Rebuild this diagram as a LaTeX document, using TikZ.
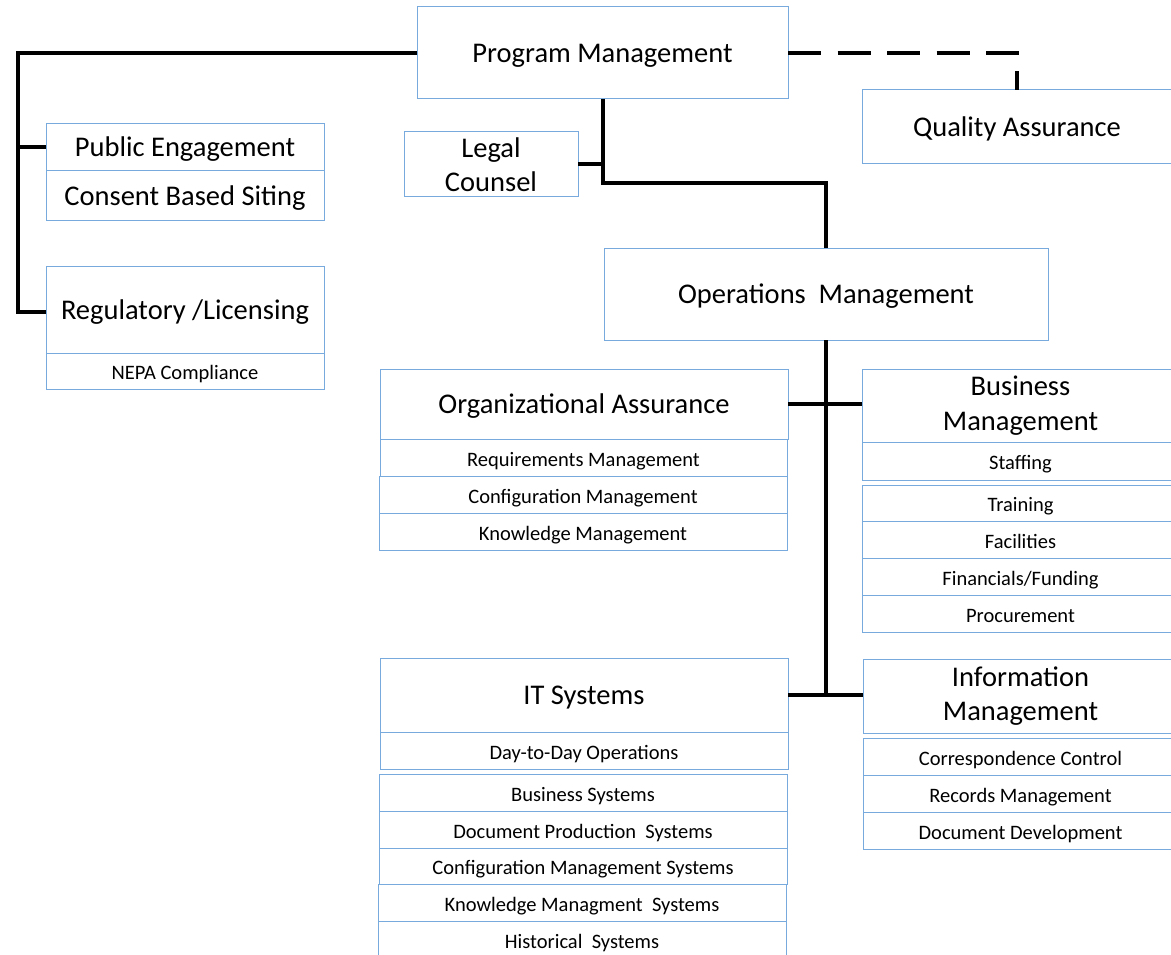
\documentclass[tikz,border=0pt]{standalone}
\usepackage{fontspec}
\setmainfont{Carlito}
\definecolor{boxblue}{RGB}{120,170,222}
\tikzset{
  box/.style={draw=boxblue, line width=1pt, inner sep=0pt, outer sep=0pt, align=center, text=black},
  bigm/.style={font=\fontsize{28.5}{34.5}\selectfont},
  big/.style={bigm, text height=19pt, text depth=0pt},
  small/.style={font=\fontsize{20.5}{24}\selectfont, text height=17pt, text depth=0pt},
  sz/.style 2 args={minimum width=#1, minimum height=#2},
  conn/.style={line width=4pt, black}
}
\begin{document}
\begin{tikzpicture}[x=1pt,y=-1pt]
\useasboundingbox (0,0) rectangle (1171,955);
% top level
\node[box,big,sz={371pt}{92pt}] (pm) at (602.5,53) {Program Management};
\node[box,big,sz={310pt}{74pt}] (qa) at (1017,127) {Quality Assurance};
\node[box,bigm,sz={174pt}{65pt}] (lc) at (491,164.5) {Legal\\Counsel};
% left column
\node[box,big,sz={278pt}{47pt}] (pe) at (185,147.5) {Public Engagement};
\node[box,big,sz={278pt}{50pt}] (cbs) at (185,196) {Consent Based Siting};
\node[box,big,sz={278pt}{87pt}] (rl) at (185,309.5) {Regulatory /Licensing};
\node[box,small,sz={278pt}{36pt}] (nepa) at (185,371) {NEPA Compliance};
% operations
\node[box,big,sz={444pt}{92pt}] (om) at (826,294) {Operations~~Management};
% organizational assurance
\node[box,big,sz={408pt}{70pt}] (oa) at (584,404) {Organizational Assurance};
\node[box,small,sz={407pt}{37pt}] (rm) at (583.5,457.5) {Requirements Management};
\node[box,small,sz={408pt}{37pt}] (cm) at (583,494.5) {Configuration Management};
\node[box,small,sz={408pt}{37pt}] (km) at (583,531.5) {Knowledge Management};
% business management
\node[box,bigm,sz={317pt}{73pt}] (bm) at (1020.5,405.5) {Business\\Management};
\node[box,small,sz={317pt}{38pt}] (staff) at (1020.5,461) {Staffing};
\node[box,small,sz={317pt}{36pt}] (train) at (1020.5,503) {Training};
\node[box,small,sz={317pt}{37pt}] (fac) at (1020.5,539.5) {Facilities};
\node[box,small,sz={317pt}{37pt}] (fin) at (1020.5,576.5) {Financials/Funding};
\node[box,small,sz={317pt}{37pt}] (proc) at (1020.5,613.5) {Procurement};
% IT systems
\node[box,big,sz={408pt}{74pt}] (it) at (584,695) {IT Systems};
\node[box,small,sz={408pt}{37pt}] (d2d) at (584,750.5) {Day-to-Day Operations};
\node[box,small,sz={408pt}{37pt}] (bs) at (583,792.5) {Business Systems};
\node[box,small,sz={408pt}{37pt}] (dps) at (583,829.5) {Document Production~~Systems};
\node[box,small,sz={408pt}{36pt}] (cms) at (583,866) {Configuration Management Systems};
\node[box,small,sz={408pt}{37pt}] (kms) at (582,902.5) {Knowledge Managment~~Systems};
\node[box,small,sz={408pt}{37pt}] (hs) at (582,939.5) {Historical~~Systems};
% information management
\node[box,bigm,sz={315pt}{74pt}] (im) at (1020.5,696) {Information\\Management};
\node[box,small,sz={315pt}{37pt}] (cc) at (1020.5,756.5) {Correspondence Control};
\node[box,small,sz={315pt}{37pt}] (rec) at (1020.5,793.5) {Records Management};
\node[box,small,sz={315pt}{37pt}] (dd) at (1020.5,830.5) {Document Development};
% connectors
\coordinate (lt) at (18,53);
\coordinate (lb) at (18,312);
\draw[conn] (pm.west) -- (lt) -- (lb) -- (lb -| rl.west);
\draw[conn] (lt |- pe.west) -- (pe.west);
\coordinate (j1) at (602.5,183);
\draw[conn] (pm.south) -- (j1) -| (om.north);
\draw[conn] (lc.east) -- (lc.east -| pm.south);
\draw[conn, dash pattern=on 33pt off 16.5pt] (pm.east) -- (qa.north |- pm.east) -- (qa.north);
\draw[conn] (om.south) -- (om.south |- it.east);
\draw[conn] (oa.east) -- (oa.east -| bm.west);
\draw[conn] (it.east) -- (it.east -| im.west);
\end{tikzpicture}
\end{document}
